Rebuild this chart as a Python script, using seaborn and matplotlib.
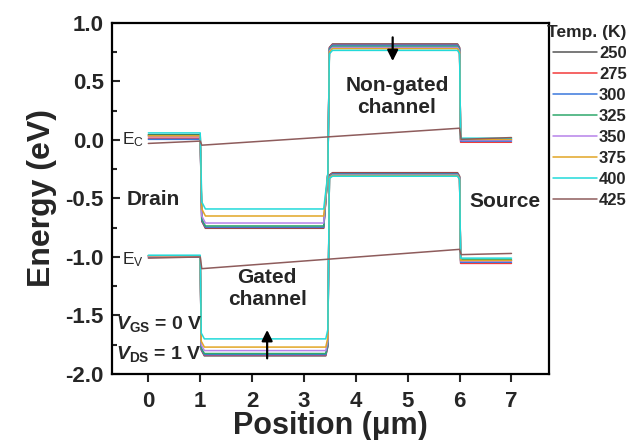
import matplotlib
matplotlib.use('Agg')
import matplotlib.pyplot as plt
import seaborn as sns
import pandas as pd
from matplotlib.lines import Line2D
from matplotlib.ticker import MultipleLocator, FormatStrFormatter

# --- band-edge data (eV) ---
temps = [250, 275, 300, 325, 350, 375, 400]
colors = ["#555555", "#f23b3b", "#3a78dc", "#2fa86c", "#b683ea", "#e2a626", "#22dada"]

drain_ec = [0.045, 0.015, 0.005, 0.04, 0.03, 0.035, 0.06]
gated_ec = [-0.755, -0.75, -0.745, -0.735, -0.71, -0.65, -0.59]
nongated_ec = [0.82, 0.815, 0.81, 0.80, 0.79, 0.78, 0.765]
source_ec = [0.0, -0.02, -0.01, 0.01, 0.0, 0.005, 0.015]

drain_ev = [-0.99, -1.0, -1.0, -0.99, -0.995, -0.99, -0.985]
gated_ev = [-1.845, -1.84, -1.835, -1.825, -1.80, -1.77, -1.70]
nongated_ev = [-0.28, -0.285, -0.29, -0.295, -0.30, -0.305, -0.31]
source_ev = [-1.03, -1.055, -1.045, -1.02, -1.035, -1.03, -1.01]

# region break points (um)
ec_pos = [0.0, 1.0, 1.03, 1.1, 3.38, 3.46, 3.49, 3.55, 5.96, 6.0, 6.02, 7.0]
ev_pos = [0.0, 1.0, 1.02, 1.08, 3.42, 3.46, 3.49, 3.55, 5.96, 6.0, 6.02, 7.0]

# 425 K: nearly linear profile
t_hot = 425
hot_color = "#8e5c5c"
hot_pos = [0.0, 1.0, 1.03, 6.0, 6.03, 7.0]
hot_ec = [-0.03, -0.01, -0.045, 0.10, 0.005, 0.02]
hot_ev = [-1.01, -1.0, -1.10, -0.935, -0.98, -0.97]

rows = []
for i, t in enumerate(temps):
    d, g, n, s = drain_ec[i], gated_ec[i], nongated_ec[i], source_ec[i]
    ec = [d, d, g + 0.06, g, g, -0.29, n - 0.03, n, n, n - 0.03, s, s]
    d, g, n, s = drain_ev[i], gated_ev[i], nongated_ev[i], source_ev[i]
    ev = [d, d, g + 0.05, g, g, g + 0.08, n - 0.02, n, n, n - 0.03, s, s]
    for x, y in zip(ec_pos, ec):
        rows.append({"T": t, "band": "Ec", "pos": x, "E": y})
    for x, y in zip(ev_pos, ev):
        rows.append({"T": t, "band": "Ev", "pos": x, "E": y})
for x, y in zip(hot_pos, hot_ec):
    rows.append({"T": t_hot, "band": "Ec", "pos": x, "E": y})
for x, y in zip(hot_pos, hot_ev):
    rows.append({"T": t_hot, "band": "Ev", "pos": x, "E": y})
df = pd.DataFrame(rows)

all_temps = temps + [t_hot]
palette = dict(zip(all_temps, colors + [hot_color]))

sns.set_style("white")
plt.rcParams['font.family'] = ['Liberation Sans', 'DejaVu Sans']
plt.rcParams['mathtext.fontset'] = 'custom'
plt.rcParams['mathtext.rm'] = 'Liberation Sans:bold'
plt.rcParams['mathtext.it'] = 'Liberation Sans:italic:bold'
plt.rcParams['mathtext.sf'] = 'Liberation Sans'

fig = plt.figure(figsize=(6.33, 4.40), dpi=100)
ax = fig.add_axes([0.177, 0.15, 0.69, 0.798])

sns.lineplot(data=df, x="pos", y="E", hue="T", units="band", estimator=None,
             sort=False, palette=palette, lw=1.1, legend=False, ax=ax)

ax.set_xlim(-0.7, 7.72)
ax.set_ylim(-2.0, 1.0)
ax.xaxis.set_major_locator(MultipleLocator(1))
ax.yaxis.set_major_locator(MultipleLocator(0.5))
ax.yaxis.set_minor_locator(MultipleLocator(0.25))
ax.yaxis.set_major_formatter(FormatStrFormatter('%.1f'))
ax.tick_params(axis='x', which='major', direction='out', length=6, width=1.5,
               bottom=True, labelsize=16, pad=6)
ax.tick_params(axis='y', which='major', direction='in', length=6, width=1.5,
               left=True, labelsize=16, pad=6)
ax.tick_params(axis='y', which='minor', direction='in', length=3.5, width=1.5, left=True)
for lab in ax.get_xticklabels() + ax.get_yticklabels():
    lab.set_fontweight('bold')
for sp in ax.spines.values():
    sp.set_linewidth(1.6)
    sp.set_color('black')

ax.set_xlabel("Position (\u03bcm)", fontsize=22, fontweight='bold')
ax.xaxis.set_label_coords(0.5, -0.105)
ax.set_ylabel("Energy (eV)", fontsize=23, fontweight='bold', labelpad=6)

# annotations
ax.text(-0.5, 0.0, r"$\mathsf{E}_\mathsf{C}$", fontsize=12.5, va='center', ha='left')
ax.text(-0.5, -1.02, r"$\mathsf{E}_\mathsf{V}$", fontsize=12.5, va='center', ha='left')
ax.text(0.1, -0.51, "Drain", fontsize=15, fontweight='bold', ha='center', va='center')
ax.text(6.87, -0.53, "Source", fontsize=15, fontweight='bold', ha='center', va='center')
ax.text(2.29, -1.27, "Gated\nchannel", fontsize=15, fontweight='bold', ha='center',
        va='center', linespacing=1.15)
ax.text(4.79, 0.37, "Non-gated\nchannel", fontsize=15, fontweight='bold', ha='center',
        va='center', linespacing=1.15)
ax.text(-0.63, -1.57, r"$V_{\mathrm{GS}}$ = 0 V", fontsize=14, fontweight='bold',
        ha='left', va='center')
ax.text(-0.63, -1.83, r"$V_{\mathrm{DS}}$ = 1 V", fontsize=14, fontweight='bold',
        ha='left', va='center')

ax.annotate("", xy=(2.29, -1.6), xytext=(2.29, -1.89),
            arrowprops=dict(arrowstyle='-|>', color='black', lw=1.6, mutation_scale=16))
ax.annotate("", xy=(4.71, 0.65), xytext=(4.71, 0.9),
            arrowprops=dict(arrowstyle='-|>', color='black', lw=1.6, mutation_scale=16))

handles = [Line2D([0], [0], color=palette[t], lw=1.1) for t in all_temps]
leg = ax.legend(handles, [str(t) for t in all_temps], title="Temp. (K)",
                loc='upper left', bbox_to_anchor=(0.993, 0.998), frameon=False,
                handlelength=2.6, handletextpad=0.15, labelspacing=0.36,
                prop={'size': 12, 'weight': 'bold'}, borderpad=0.1,
                borderaxespad=0.0)
leg.get_title().set_fontsize(12.5)
leg.get_title().set_fontweight('bold')
leg._legend_box.align = "right"

fig.savefig("out.png", dpi=100)
